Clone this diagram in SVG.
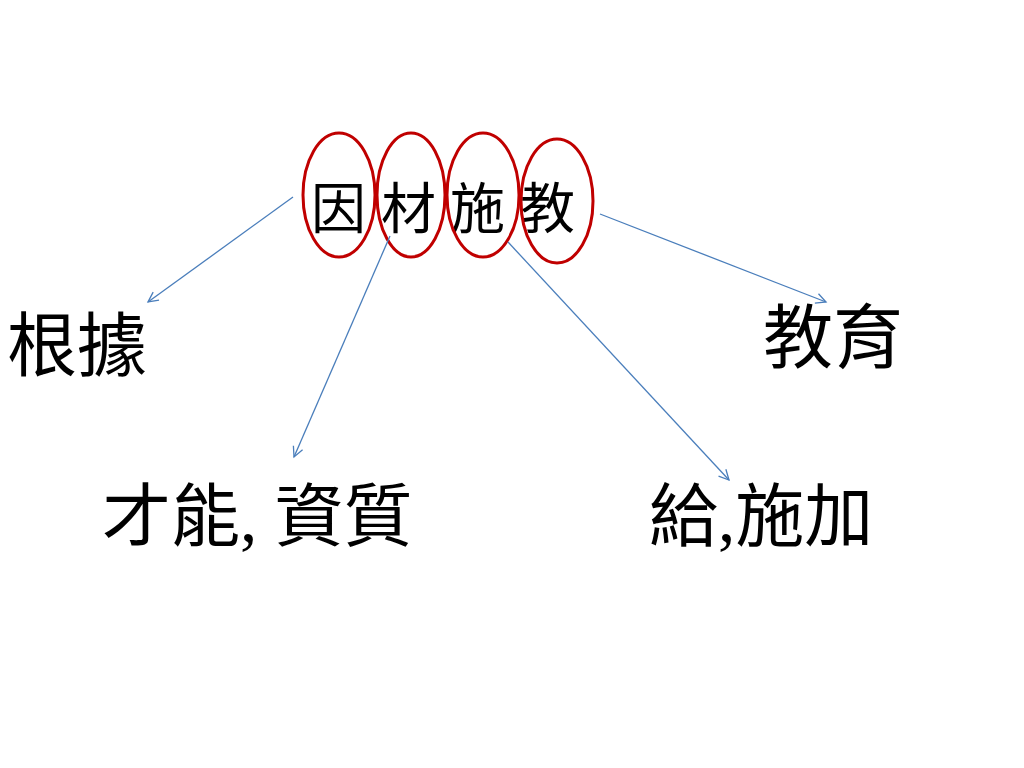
<svg xmlns="http://www.w3.org/2000/svg" width="1024" height="768" viewBox="0 0 1024 768">
<defs>
<style>
.t{font-family:"Liberation Serif","Noto Sans CJK TC",serif;fill:#000}
.e{fill:none;stroke:#c00000;stroke-width:3}
.c{stroke:#4a7ebb;stroke-width:1.3;fill:none;marker-end:url(#a)}
</style>
<marker id="a" markerWidth="14" markerHeight="14" refX="12" refY="7" orient="auto" markerUnits="userSpaceOnUse">
<path d="M2,2 L12,7 L2,12" fill="none" stroke="#4a7ebb" stroke-width="1.3"/>
</marker>
</defs>
<rect width="1024" height="768" fill="#fff"/>
<g id="title">
<text class="t" x="311" y="228" font-size="55">因</text>
<text class="t" x="381" y="228" font-size="55">材</text>
<text class="t" x="450" y="228" font-size="55">施</text>
<text class="t" x="520" y="228" font-size="55">教</text>
<ellipse class="e" cx="339" cy="195" rx="36" ry="62"/>
<ellipse class="e" cx="411" cy="195" rx="34" ry="62"/>
<ellipse class="e" cx="483" cy="195" rx="36" ry="62"/>
<ellipse class="e" cx="557" cy="201" rx="36" ry="62"/>
</g>
<g id="connectors">
<line class="c" x1="293" y1="197" x2="148" y2="302"/>
<line class="c" x1="390" y1="236" x2="294" y2="457"/>
<line class="c" x1="508" y1="242" x2="729" y2="480"/>
<line class="c" x1="600" y1="214" x2="826" y2="302"/>
</g>
<g id="n1"><text class="t" x="7" y="371" font-size="70">根據</text></g>
<g id="n2"><text class="t" x="763" y="363" font-size="70">教育</text></g>
<g id="n3"><text class="t" x="102" y="541" font-size="69">才能, 資質</text></g>
<g id="n4"><text class="t" x="649" y="541" font-size="69">給,施加</text></g>
</svg>
